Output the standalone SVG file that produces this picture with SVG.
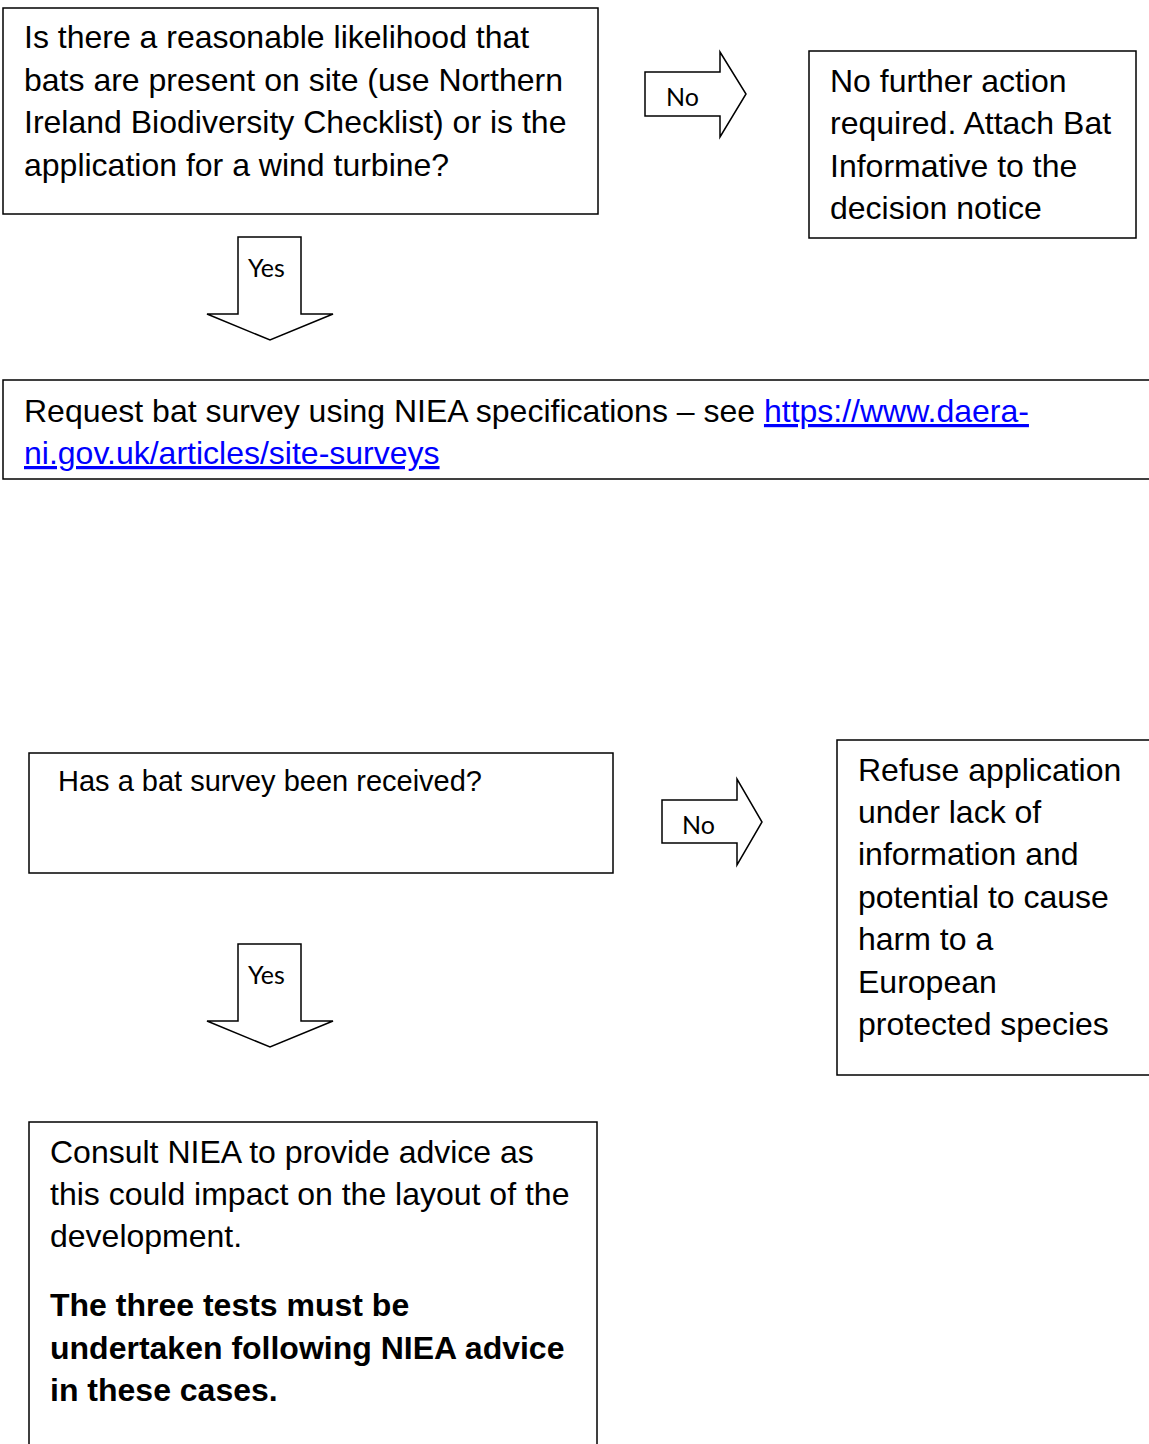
<svg xmlns="http://www.w3.org/2000/svg" width="1149" height="1444" viewBox="0 0 1149 1444">
  <style>
    .box { fill: #ffffff; stroke: #000000; stroke-width: 1.5; }
    .arrow { fill: #ffffff; stroke: #000000; stroke-width: 1.5; stroke-linejoin: miter; }
    .t { font-family: "Liberation Sans", Arial, sans-serif; font-size: 32px; fill: #000000; }
    .s { font-size: 29px; }
    .b { font-weight: bold; }
    .link { fill: #0000ff; text-decoration: underline; }
    .lbl { font-family: Lato, "Open Sans", sans-serif; font-size: 25px; fill: #000000; }
  </style>
  <rect width="1149" height="1444" fill="#ffffff"/>

  <g id="connectors">
    <!-- No: likelihood question -> no further action -->
    <g id="arrow-no-1">
      <polygon class="arrow" points="645,72 720,72 720,52 746,94 720,137 720,116 645,116"/>
      <text class="lbl" x="666" y="106">No</text>
    </g>
    <!-- Yes: likelihood question -> request survey -->
    <g id="arrow-yes-1">
      <polygon class="arrow" points="238,237 301,237 301,314 333,314 270,340 207,314 238,314"/>
      <text class="lbl" x="248" y="277">Yes</text>
    </g>
    <!-- No: survey received? -> refuse -->
    <g id="arrow-no-2">
      <polygon class="arrow" points="662,800 737,800 737,779 762,822 737,865 737,843 662,843"/>
      <text class="lbl" x="682" y="834">No</text>
    </g>
    <!-- Yes: survey received? -> consult NIEA -->
    <g id="arrow-yes-2">
      <polygon class="arrow" points="238,944 301,944 301,1021 333,1021 270,1047 207,1021 238,1021"/>
      <text class="lbl" x="248" y="984">Yes</text>
    </g>
  </g>

  <g id="node-likelihood">
    <rect class="box" x="3" y="8" width="595" height="206"/>
    <text class="t" x="24" y="48">Is there a reasonable likelihood that</text>
    <text class="t" x="24" y="91">bats are present on site (use Northern</text>
    <text class="t" x="24" y="133">Ireland Biodiversity Checklist) or is the</text>
    <text class="t" x="24" y="176">application for a wind turbine?</text>
  </g>

  <g id="node-no-action">
    <rect class="box" x="809" y="51" width="327" height="187"/>
    <text class="t" x="830" y="92">No further action</text>
    <text class="t" x="830" y="134">required. Attach Bat</text>
    <text class="t" x="830" y="177">Informative to the</text>
    <text class="t" x="830" y="219">decision notice</text>
  </g>

  <g id="node-request-survey">
    <rect class="box" x="3" y="380" width="1160" height="99"/>
    <text class="t" x="24" y="422">Request bat survey using NIEA specifications – see <tspan class="link">https://www.daera-</tspan></text>
    <text class="t link" x="24" y="464">ni.gov.uk/articles/site-surveys</text>
  </g>

  <g id="node-survey-received">
    <rect class="box" x="29" y="753" width="584" height="120"/>
    <text class="t s" x="58" y="791">Has a bat survey been received?</text>
  </g>

  <g id="node-refuse">
    <rect class="box" x="837" y="740" width="326" height="335"/>
    <text class="t" x="858" y="781">Refuse application</text>
    <text class="t" x="858" y="823">under lack of</text>
    <text class="t" x="858" y="865">information and</text>
    <text class="t" x="858" y="908">potential to cause</text>
    <text class="t" x="858" y="950">harm to a</text>
    <text class="t" x="858" y="993">European</text>
    <text class="t" x="858" y="1035">protected species</text>
  </g>

  <g id="node-consult">
    <rect class="box" x="29" y="1122" width="568" height="340"/>
    <text class="t" x="50" y="1163">Consult NIEA to provide advice as</text>
    <text class="t" x="50" y="1205">this could impact on the layout of the</text>
    <text class="t" x="50" y="1247">development.</text>
    <text class="t b" x="50" y="1316">The three tests must be</text>
    <text class="t b" x="50" y="1359">undertaken following NIEA advice</text>
    <text class="t b" x="50" y="1401">in these cases.</text>
  </g>
</svg>
